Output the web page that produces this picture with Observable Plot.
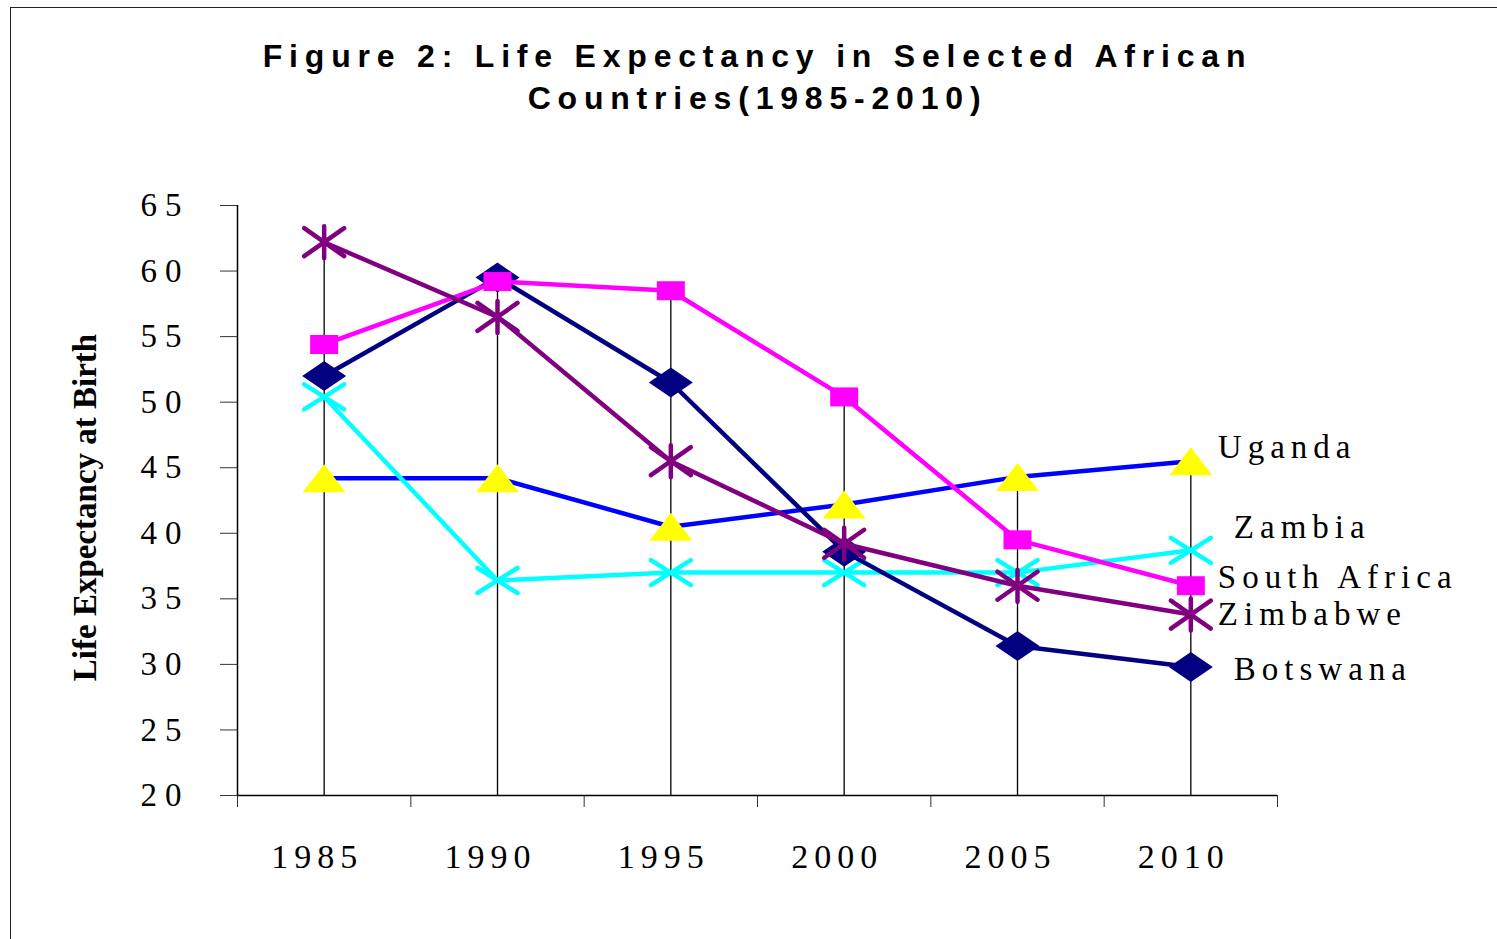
<!DOCTYPE html>
<html><head><meta charset="utf-8">
<script src="https://cdn.jsdelivr.net/npm/d3@7"></script>
<script src="https://cdn.jsdelivr.net/npm/@observablehq/plot@0.6"></script>
<style>
html,body{margin:0;padding:0;background:#fff;overflow:hidden;width:1497px;height:939px;}
#frame{position:absolute;left:10px;top:7px;width:1600px;height:1000px;border:1.5px solid #222;}
#title{position:absolute;left:0;width:1515px;top:35px;text-align:center;font-family:"Liberation Sans",Arial,sans-serif;font-weight:bold;font-size:32px;letter-spacing:6.8px;line-height:42px;color:#000;}
#chart{position:absolute;left:0;top:0;}
</style></head><body>
<div id="frame"></div>
<div id="chart"></div>
<div id="title">Figure 2: Life Expectancy in Selected African<br>Countries(1985-2010)</div>
<script>
// ---- data ----
const years = [1985, 1990, 1995, 2000, 2005, 2010];
const seriesNames = ["Uganda", "Zambia", "Botswana", "South Africa", "Zimbabwe"];
const uganda      = [44.2, 44.2, 40.5, 42.2, 44.3, 45.5];
const zambia      = [50.4, 36.4, 37.0, 37.0, 37.0, 38.7];
const botswana    = [52.0, 59.5, 51.5, 38.6, 31.4, 29.8];
const southAfrica = [54.4, 59.2, 58.5, 50.4, 39.5, 36.0];
const zimbabwe    = [62.2, 56.5, 45.5, 39.2, 36.0, 33.8];
const yTicks = [20, 25, 30, 35, 40, 45, 50, 55, 60, 65];
const yLabel = "Life Expectancy at Birth";

// ---- derived tables ----
const valuesBySeries = {"Uganda": uganda, "Zambia": zambia, "Botswana": botswana, "South Africa": southAfrica, "Zimbabwe": zimbabwe};
const rows = seriesNames.flatMap(s => years.map((yr, i) => ({series: s, year: yr, value: valuesBySeries[s][i]})));
const tops = years.map((yr, i) => ({year: yr, top: d3.max(seriesNames, s => valuesBySeries[s][i])}));
const step = years[1] - years[0];
const boundaries = [years[0] - step / 2, ...years.map(y => y + step / 2)];

// ---- styles ----
function poly(pts) {
  return {draw(ctx) { ctx.moveTo(pts[0][0], pts[0][1]); for (const p of pts.slice(1)) ctx.lineTo(p[0], p[1]); ctx.closePath(); }};
}
const triangle = poly([[0, -14], [21.5, 14], [-21.5, 14]]);
const diamond = poly([[0, -15], [22, 0], [0, 15], [-22, 0]]);
const square = poly([[-14, -9.5], [14, -9.5], [14, 9.5], [-14, 9.5]]);
const xMark = {draw(ctx) { ctx.moveTo(-20, -12.5); ctx.lineTo(20, 12.5); ctx.moveTo(-20, 12.5); ctx.lineTo(20, -12.5); }};
const asterisk = {draw(ctx) { ctx.moveTo(-20, -14); ctx.lineTo(20, 14); ctx.moveTo(-20, 14); ctx.lineTo(20, -14); ctx.moveTo(0, -16); ctx.lineTo(0, 16); }};

const style = {
  "Uganda":       {line: "#0000FF", marker: "#FFFF00", symbol: triangle, filled: true,  dx: 27, dy: -14},
  "Zambia":       {line: "#00FFFF", marker: "#00FFFF", symbol: xMark,    filled: false, dx: 43, dy: -23},
  "Botswana":     {line: "#000080", marker: "#000080", symbol: diamond,  filled: true,  dx: 43, dy: 2},
  "South Africa": {line: "#FF00FF", marker: "#FF00FF", symbol: square,   filled: true,  dx: 27, dy: -8},
  "Zimbabwe":     {line: "#800080", marker: "#800080", symbol: asterisk, filled: false, dx: 27, dy: 0}
};

const seriesMarks = seriesNames.flatMap(s => {
  const st = style[s];
  const d = rows.filter(r => r.series === s);
  return [
    Plot.line(d, {x: "year", y: "value", stroke: st.line, strokeWidth: 4.5, strokeLinejoin: "round", strokeLinecap: "round"}),
    Plot.dot(d, st.filled
      ? {x: "year", y: "value", symbol: st.symbol, fill: st.marker, stroke: "none", r: 5}
      : {x: "year", y: "value", symbol: st.symbol, fill: "none", stroke: st.marker, strokeWidth: 4.5, strokeLinecap: "round", r: 5})
  ];
});

const labelMarks = seriesNames.map(s => {
  const st = style[s];
  const d = rows.filter(r => r.series === s && r.year === years[years.length - 1]);
  return Plot.text(d, {x: "year", y: "value", text: "series", textAnchor: "start", dx: st.dx, dy: st.dy, fontSize: 33, fill: "#000"});
});

const chart = Plot.plot({
  width: 1497, height: 939,
  marginLeft: 237, marginRight: 220, marginTop: 205, marginBottom: 144,
  style: {fontFamily: '"Liberation Serif", "Times New Roman", serif', fontSize: "33px", color: "#000", background: "transparent", overflow: "visible"},
  x: {type: "linear", domain: [boundaries[0], boundaries[boundaries.length - 1]]},
  y: {domain: [yTicks[0], yTicks[yTicks.length - 1]]},
  marks: [
    Plot.axisY({ticks: yTicks, tickSize: 17, tickPadding: 31, tickFormat: d => String(d), fontSize: 33, stroke: "#333", label: null}),
    Plot.axisX({ticks: boundaries, tickSize: 12, tickFormat: () => "", stroke: "#333", label: null}),
    Plot.axisX({ticks: years, tickSize: 0, tickPadding: 48, dx: -7, tickFormat: d => String(d), fontSize: 34, label: null}),
    Plot.ruleX(tops, {x: "year", y1: yTicks[0], y2: "top", stroke: "#000", strokeWidth: 1.3}),
    Plot.ruleY([yTicks[0]], {stroke: "#000", strokeWidth: 1.5}),
    Plot.ruleX([boundaries[0]], {stroke: "#000", strokeWidth: 1.5}),
    ...seriesMarks,
    ...labelMarks,
    Plot.text([yLabel], {frameAnchor: "left", textAnchor: "middle", rotate: -90, dx: -152, dy: 7, fontWeight: "bold", fontSize: 33, fill: "#000"})
  ]
});
document.getElementById("chart").appendChild(chart);

const svg = d3.select(chart);
svg.selectAll('g[aria-label="y-axis tick label"] text').style("letter-spacing", "8px");
svg.selectAll('g[aria-label="x-axis tick label"] text').style("letter-spacing", "6px");
svg.selectAll("text").filter(function() { return seriesNames.includes(this.textContent); }).style("letter-spacing", "6px");
</script>
</body></html>
